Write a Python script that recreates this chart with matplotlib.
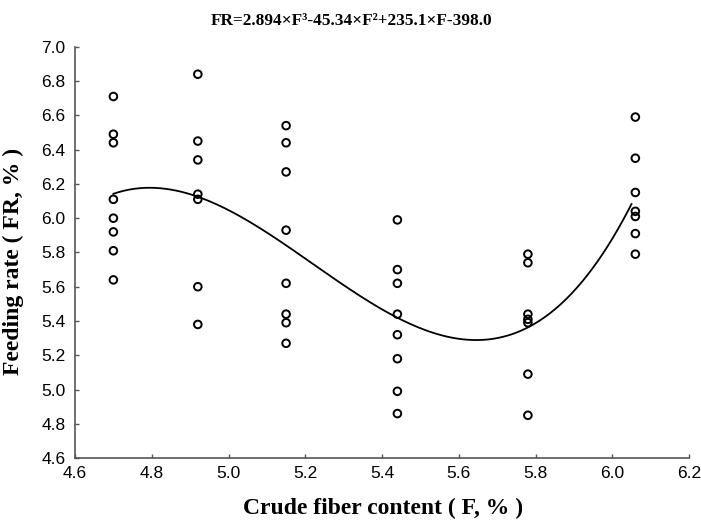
import numpy as np
import matplotlib
matplotlib.use("Agg")
import matplotlib.pyplot as plt

# Crude fiber content levels (F, %)
fiber_levels = [4.70, 4.92, 5.15, 5.44, 5.78, 6.06]
# Feeding rate observations (FR, %) per level
fr_470 = [6.71, 6.49, 6.44, 6.11, 6.00, 5.92, 5.81, 5.64]
fr_492 = [6.84, 6.45, 6.34, 6.14, 6.11, 5.60, 5.38]
fr_515 = [6.54, 6.44, 6.27, 5.93, 5.62, 5.44, 5.39, 5.27]
fr_544 = [5.99, 5.70, 5.62, 5.44, 5.32, 5.18, 4.99, 4.86]
fr_578 = [5.79, 5.74, 5.44, 5.41, 5.39, 5.09, 4.85]
fr_606 = [6.59, 6.35, 6.15, 6.04, 6.01, 5.91, 5.79]
groups = [fr_470, fr_492, fr_515, fr_544, fr_578, fr_606]

x_ticks = [4.6, 4.8, 5.0, 5.2, 5.4, 5.6, 5.8, 6.0, 6.2]
y_ticks = [4.6, 4.8, 5.0, 5.2, 5.4, 5.6, 5.8, 6.0, 6.2, 6.4, 6.6, 6.8, 7.0]
title_text = "FR=2.894×F³-45.34×F²+235.1×F-398.0"

xs = np.concatenate([[f] * len(g) for f, g in zip(fiber_levels, groups)])
ys = np.concatenate(groups)

fig = plt.figure(figsize=(7.01, 5.20), dpi=100)
ax = fig.add_axes([0.107, 0.119, 0.876, 0.791])

ax.scatter(xs, ys, s=30, facecolors='none', edgecolors='black', linewidths=1.4, zorder=3)

coef = np.polyfit(xs, ys, 3)
xf = np.linspace(min(fiber_levels), 6.05, 200)
ax.plot(xf, np.polyval(coef, xf), color='black', lw=1.3, zorder=2)

ax.set_xlim(4.6, 6.2)
ax.set_ylim(4.6, 7.0)
ax.set_xticks(x_ticks)
ax.set_yticks(y_ticks)
ax.set_xticklabels([f"{v:.1f}" for v in x_ticks], fontfamily='Liberation Sans', fontsize=12.5)
ax.set_yticklabels([f"{v:.1f}" for v in y_ticks], fontfamily='Liberation Sans', fontsize=12.5)
ax.tick_params(axis='x', direction='in', length=3, width=1, color='#555555', pad=6)
ax.tick_params(axis='y', direction='in', length=3, width=1, color='#555555', pad=7)

for s in ['top', 'right']:
    ax.spines[s].set_visible(False)
for s in ['left', 'bottom']:
    ax.spines[s].set_color('#555555')
    ax.spines[s].set_linewidth(1.2)

ax.set_xlabel("Crude fiber content ( F, % )", fontfamily='Liberation Serif',
              fontweight='bold', fontsize=17)
ax.set_ylabel("Feeding rate ( FR, % )", fontfamily='Liberation Serif',
              fontweight='bold', fontsize=17)
ax.xaxis.set_label_coords(0.5016, -0.1217)
ax.xaxis.label.set_va('center')
ax.yaxis.set_label_coords(-0.101, 0.479)
ax.yaxis.label.set_va('center')

fig.text(0.502, 0.960, title_text, ha='center', va='center',
         fontfamily='Liberation Serif', fontweight='bold', fontsize=12.4)

fig.savefig("out.png", dpi=100, facecolor='white')
